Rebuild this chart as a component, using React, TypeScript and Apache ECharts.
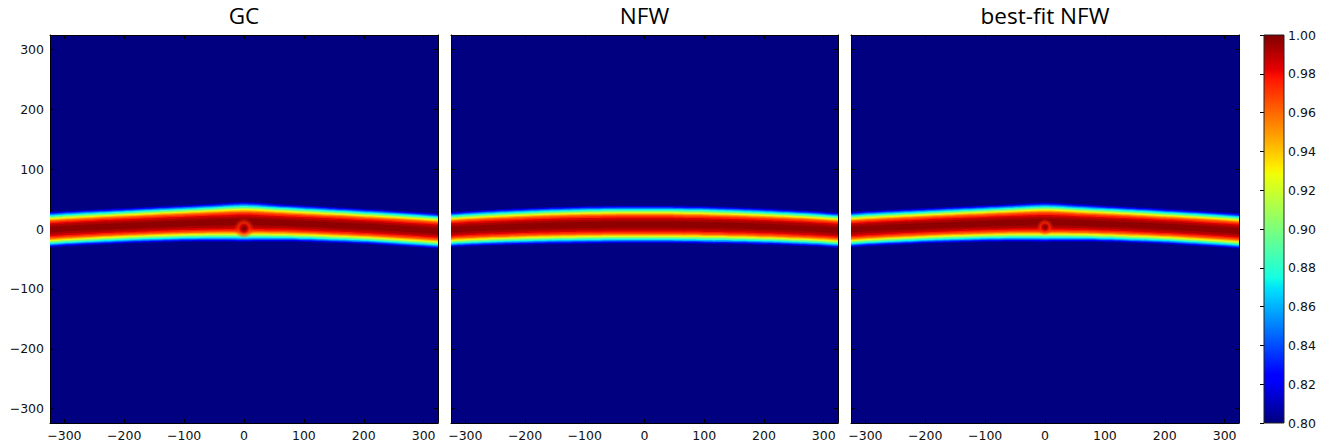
import React, { useEffect, useRef } from "react";
import * as echarts from "echarts";

// ---------- data ----------
const panelTitles = ["GC", "NFW", "best-fit NFW"];
const xTicks = [-300, -200, -100, 0, 100, 200, 300];
const yTicks = [-300, -200, -100, 0, 100, 200, 300];
const cbTicks = [0.8, 0.82, 0.84, 0.86, 0.88, 0.9, 0.92, 0.94, 0.96, 0.98, 1.0];
const CB_MIN = 0.8;
const CB_MAX = 1.0;
const AX_MIN = -324;
const AX_MAX = 324;

// stream centre line, sampled along x (knots beyond the frame are clipped)
const knotX = [-400, -345, -300, -250, -200, -150, -100, -50, -20, 0, 20, 50, 100, 150, 200, 250, 300, 345, 400];
const centreGC = [-6, -2.5, 0.5, 3, 5.3, 7.4, 9.3, 10.8, 11.6, 11.8, 11.6, 10.6, 8.8, 6.6, 4.2, 1.5, -1.7, -5, -9];
const widthGC = [30, 30, 30, 30, 30, 30.5, 31, 32.2, 33.3, 34, 33.3, 32.2, 31, 30.5, 30, 30, 30, 30, 30];
const centreNFW = [-6, -2.5, 0.3, 2.6, 4.4, 5.8, 6.8, 7.4, 7.5, 7.5, 7.5, 7.3, 6.6, 5.5, 4.0, 2.0, -0.5, -3.5, -7.5];
const widthNFW = [30, 30, 30, 30.5, 31, 31.5, 32, 32, 32, 32, 32, 32, 32, 31.5, 31, 30.5, 30, 30, 30];
const centreBest = [-6, -2.5, 0.5, 3, 5.2, 7.2, 9, 10.5, 11.2, 11.4, 11.2, 10.3, 8.6, 6.5, 4.1, 1.5, -1.7, -5, -9];
const widthBest = [30, 30, 30, 30, 30, 30.5, 31, 32, 33, 33.6, 33, 32, 31, 30.5, 30, 30, 30, 30, 30];

// transverse profile: value level -> fraction of half-width where it is reached
const levels = [0.8, 0.81, 0.82, 0.83, 0.84, 0.85, 0.86, 0.87, 0.88, 0.89, 0.9, 0.91, 0.92, 0.93, 0.94, 0.95, 0.96, 0.97, 0.98, 0.99, 0.995];
const levelFrac = [1.0, 0.965, 0.93, 0.9, 0.87, 0.84, 0.81, 0.78, 0.75, 0.72, 0.69, 0.66, 0.63, 0.6, 0.57, 0.53, 0.49, 0.43, 0.36, 0.27, 0.16];

// central hole feature (x, y, radius) for GC and best-fit NFW
const holeGC = [0, 1, 17];
const holeBest = [0, 3, 14];

// ---------- jet colormap ----------
const JET_R = [[0, 0], [0.35, 0], [0.66, 1], [0.89, 1], [1, 0.5]];
const JET_G = [[0, 0], [0.125, 0], [0.375, 1], [0.64, 1], [0.91, 0], [1, 0]];
const JET_B = [[0, 0.5], [0.11, 1], [0.34, 1], [0.65, 0], [1, 0]];
function seg(s: number[][], t: number) {
  for (let i = 1; i < s.length; i++) {
    if (t <= s[i][0]) {
      const [x0, y0] = s[i - 1];
      const [x1, y1] = s[i];
      return y0 + ((y1 - y0) * (t - x0)) / (x1 - x0);
    }
  }
  return s[s.length - 1][1];
}
function jetT(t: number, a = 1) {
  t = Math.min(1, Math.max(0, t));
  const r = Math.round(255 * seg(JET_R, t));
  const g = Math.round(255 * seg(JET_G, t));
  const b = Math.round(255 * seg(JET_B, t));
  return `rgba(${r},${g},${b},${a})`;
}
function jet(v: number, a = 1) {
  return jetT((v - CB_MIN) / (CB_MAX - CB_MIN), a);
}
const jetStops = [0, 0.11, 0.125, 0.34, 0.35, 0.375, 0.64, 0.65, 0.66, 0.89, 0.91, 1];

const FONT = "DejaVu Sans";
const TICK_FS = 12.5;
const panelLeft = [50, 451, 851];
const panelWidth = [388, 387, 388];
const TOP = 35;
const HEIGHT = 388;

function fmt(v: number) {
  return v < 0 ? "\u2212" + Math.abs(v) : String(v);
}

export default function App() {
  const ref = useRef<HTMLDivElement>(null);
  useEffect(() => {
    document.body.style.margin = "0";
    const chart = echarts.init(ref.current!, undefined, { renderer: "svg" });

    const grids: any[] = [];
    const xAxes: any[] = [];
    const yAxes: any[] = [];
    const series: any[] = [];
    const graphics: any[] = [];

    const centres = [centreGC, centreNFW, centreBest];
    const widths = [widthGC, widthNFW, widthBest];
    const holes = [holeGC, null, holeBest];

    const tickStyle = { show: true, inside: true, length: 4, lineStyle: { color: "#000", width: 1 } };
    const lineStyle = { show: true, onZero: false, lineStyle: { color: "#000", width: 1 } };

    for (let p = 0; p < 3; p++) {
      grids.push({
        left: panelLeft[p],
        top: TOP,
        width: panelWidth[p],
        height: HEIGHT,
        show: true,
        backgroundColor: jet(CB_MIN),
        borderWidth: 0,
      });
      xAxes.push({
        type: "value",
        gridIndex: p,
        position: "bottom",
        min: AX_MIN,
        max: AX_MAX,
        axisLine: lineStyle,
        axisTick: { ...tickStyle, customValues: xTicks },
        axisLabel: {
          show: true,
          customValues: xTicks,
          formatter: fmt,
          fontFamily: FONT,
          fontSize: TICK_FS,
          color: "#111",
          margin: 6,
        },
        splitLine: { show: false },
      });
      xAxes.push({
        type: "value",
        gridIndex: p,
        position: "top",
        min: AX_MIN,
        max: AX_MAX,
        axisLine: lineStyle,
        axisTick: { ...tickStyle, customValues: xTicks },
        axisLabel: { show: false },
        splitLine: { show: false },
      });
      yAxes.push({
        type: "value",
        gridIndex: p,
        position: "left",
        min: AX_MIN,
        max: AX_MAX,
        axisLine: lineStyle,
        axisTick: { ...tickStyle, customValues: yTicks },
        axisLabel: {
          show: p === 0,
          customValues: yTicks,
          formatter: fmt,
          fontFamily: FONT,
          fontSize: TICK_FS,
          color: "#111",
          margin: 6,
        },
        splitLine: { show: false },
      });
      yAxes.push({
        type: "value",
        gridIndex: p,
        position: "right",
        min: AX_MIN,
        max: AX_MAX,
        axisLine: lineStyle,
        axisTick: { ...tickStyle, customValues: yTicks },
        axisLabel: { show: false },
        splitLine: { show: false },
      });

      const centre = centres[p];
      const width = widths[p];
      series.push({
        type: "custom",
        xAxisIndex: 2 * p,
        yAxisIndex: 2 * p,
        clip: true,
        silent: true,
        data: levels.map((l, i) => [l, levelFrac[i], i < levels.length - 1 ? levels[i + 1] : CB_MAX]),
        renderItem: (params: any, api: any) => {
          const L = api.value(0);
          const f = api.value(1);
          const next = api.value(2);
          const upper = knotX.map((x, k) => api.coord([x, centre[k] + width[k] * f]));
          const lower = knotX.map((x, k) => api.coord([x, centre[k] - width[k] * f])).reverse();
          return {
            type: "polygon",
            shape: { points: upper.concat(lower), smooth: 0.25 },
            style: { fill: jet((L + next) / 2), stroke: null },
          };
        },
      });

      const hole = holes[p];
      if (hole) {
        series.push({
          type: "custom",
          xAxisIndex: 2 * p,
          yAxisIndex: 2 * p,
          clip: true,
          silent: true,
          data: [hole],
          renderItem: (params: any, api: any) => {
            const c = api.coord([api.value(0), api.value(1)]);
            const s = api.size([api.value(2), api.value(2)]);
            return {
              type: "circle",
              shape: { cx: c[0], cy: c[1], r: s[0] },
              style: {
                fill: {
                  type: "radial",
                  x: 0.5,
                  y: 0.5,
                  r: 0.5,
                  colorStops: [
                    { offset: 0, color: jet(1.0) },
                    { offset: 0.18, color: jet(0.997) },
                    { offset: 0.38, color: jet(0.985, 0.9) },
                    { offset: 0.55, color: jet(0.972, 0.75) },
                    { offset: 0.78, color: jet(0.972, 0.35) },
                    { offset: 1, color: jet(0.975, 0) },
                  ],
                },
              },
            };
          },
        });
      }

      graphics.push({
        type: "text",
        x: panelLeft[p] + panelWidth[p] / 2,
        y: 15.5,
        silent: true,
        style: {
          text: panelTitles[p],
          fontFamily: "Open Sans",
          fontSize: 22.5,
          fill: "#000",
          textAlign: "center",
          textVerticalAlign: "middle",
        },
      });
    }

    // colorbar
    grids.push({ left: 1264, top: TOP, width: 20, height: HEIGHT, show: false });
    xAxes.push({
      type: "value",
      gridIndex: 3,
      min: 0,
      max: 1,
      show: false,
      splitLine: { show: false },
    });
    yAxes.push({
      type: "value",
      gridIndex: 3,
      position: "right",
      min: CB_MIN,
      max: CB_MAX,
      axisLine: { show: false },
      axisTick: { show: true, inside: true, length: 4, customValues: cbTicks, lineStyle: { color: "#000" } },
      axisLabel: {
        show: true,
        customValues: cbTicks,
        formatter: (v: number) => v.toFixed(2),
        fontFamily: FONT,
        fontSize: TICK_FS,
        color: "#111",
        margin: 4,
      },
      splitLine: { show: false },
    });
    series.push({
      type: "custom",
      xAxisIndex: 6,
      yAxisIndex: 6,
      silent: true,
      z: 1,
      data: [[CB_MIN, CB_MAX]],
      renderItem: (params: any, api: any) => {
        const a = api.coord([0, api.value(1)]);
        const b = api.coord([1, api.value(0)]);
        return {
          type: "rect",
          shape: { x: a[0], y: a[1], width: b[0] - a[0], height: b[1] - a[1] },
          style: {
            fill: {
              type: "linear",
              x: 0,
              y: 1,
              x2: 0,
              y2: 0,
              colorStops: jetStops.map((t) => ({ offset: t, color: jetT(t) })),
            },
            stroke: "#222",
            lineWidth: 1,
          },
        };
      },
    });

    chart.setOption({
      animation: false,
      backgroundColor: "#fff",
      textStyle: { fontFamily: FONT },
      grid: grids,
      xAxis: xAxes,
      yAxis: yAxes,
      series,
      graphic: graphics,
    });
    return () => chart.dispose();
  }, []);
  return <div ref={ref} style={{ width: 1335, height: 446 }} />;
}
